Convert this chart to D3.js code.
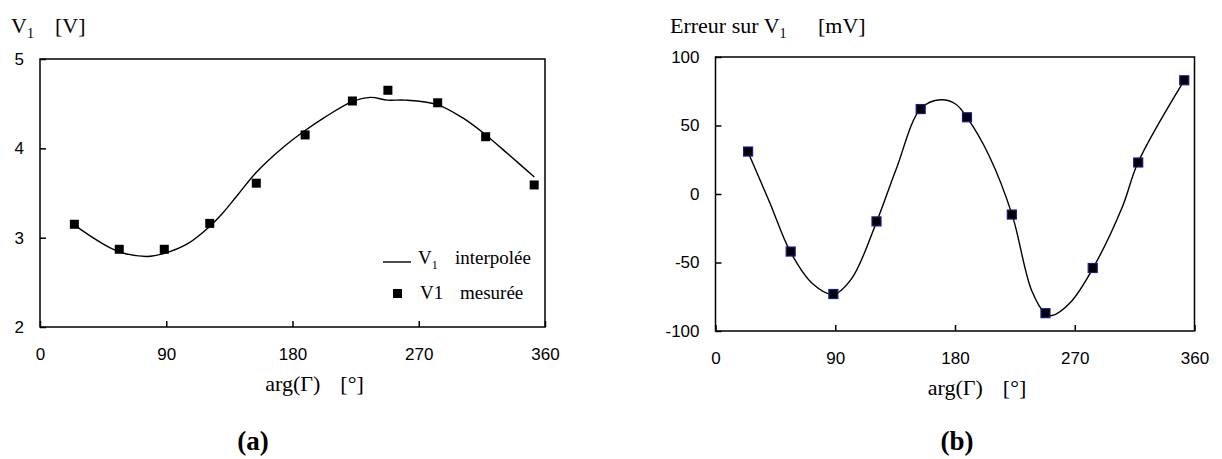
<!DOCTYPE html>
<html>
<head>
<meta charset="utf-8">
<script src="https://cdn.jsdelivr.net/npm/d3@7"></script>
<style>
  body { margin: 0; background: #fff; }
  .tick text { font-family: "Liberation Sans", Arial, sans-serif; font-size: 17px; fill: #000; }
  .serif { font-family: "Liberation Serif", "Times New Roman", serif; fill: #000; }
  .frame { fill: none; stroke: #000; stroke-width: 1.5; }
  .line { fill: none; stroke: #000; stroke-width: 1.4; }
</style>
</head>
<body>
<svg id="chart" width="1222" height="459"></svg>
<script>
// 0. data
var angles = [24.5, 56.5, 88.6, 121, 154.2, 189, 222.7, 248, 283.5, 317.7, 352.3];
var v1Mesuree = [3.15, 2.87, 2.87, 3.16, 3.61, 4.15, 4.53, 4.65, 4.51, 4.13, 3.59];
var erreurMesuree = [31, -42, -73, -20, 62, 56, -15, -87, -54, 23, 83];

// interpolated curve (a)
var interpAngles = [24.6, 42.3, 56.8, 76.4, 88.7, 105, 120.6, 130, 141, 154.1, 173.2, 189, 203.2, 222.3, 235.4, 247.6, 260.5, 283.1, 301.4, 317.8, 334.1, 352.4];
var v1Interp = [3.14, 2.955, 2.84, 2.79, 2.825, 2.93, 3.12, 3.27, 3.48, 3.73, 4.01, 4.20, 4.35, 4.52, 4.57, 4.54, 4.54, 4.49, 4.34, 4.15, 3.93, 3.68];

// interpolated curve (b)
var errAngles = [24.4, 40.9, 56, 73, 88.6, 102.3, 121.2, 135.7, 154.4, 169.3, 180.4, 189, 205.8, 223, 237.6, 248.2, 252.9, 266.9, 283.8, 305.9, 317.6, 352.3];
var errInterp = [30.6, -6.6, -41.7, -65.5, -73.3, -61.8, -20, 17.9, 62.5, 68.8, 65.7, 55.9, 27.6, -15.4, -70.4, -87.5, -88.7, -79, -54, -9.1, 23.2, 83];

var xTicks = [0, 90, 180, 270, 360];
var yTicksA = [2, 3, 4, 5];
var yTicksB = [-100, -50, 0, 50, 100];

var svg = d3.select("#chart");

// 1. scales
var xA = d3.scaleLinear().domain([0, 360]).range([40, 545]);
var yA = d3.scaleLinear().domain([2, 5]).range([327, 59]);
var xB = d3.scaleLinear().domain([0, 360]).range([715.5, 1194.5]);
var yB = d3.scaleLinear().domain([-100, 100]).range([331, 57]);

var plainFmt = function(d) { return String(d); }; // keep "-" instead of the unicode minus

function drawPanel(x, y, yTicks, pts, curve, markerStroke) {
  // frame
  svg.append("rect")
    .attr("class", "frame")
    .attr("x", x.range()[0])
    .attr("y", y.range()[1])
    .attr("width", x.range()[1] - x.range()[0])
    .attr("height", y.range()[0] - y.range()[1]);

  // x axis, ticks pointing in
  var gx = svg.append("g")
    .attr("transform", "translate(0," + y.range()[0] + ")")
    .call(d3.axisBottom(x).tickValues(xTicks).tickFormat(plainFmt)
      .tickSizeInner(-6).tickSizeOuter(0).tickPadding(21));
  gx.select(".domain").remove();
  gx.selectAll(".tick line").attr("stroke-width", 1.5);

  // y axis
  var gy = svg.append("g")
    .attr("transform", "translate(" + x.range()[0] + ",0)")
    .call(d3.axisLeft(y).tickValues(yTicks).tickFormat(plainFmt)
      .tickSizeInner(-6).tickSizeOuter(0).tickPadding(16));
  gy.select(".domain").remove();
  gy.selectAll(".tick line").attr("stroke-width", 1.5);

  // curve
  var line = d3.line()
    .x(function(d) { return x(d[0]); })
    .y(function(d) { return y(d[1]); })
    .curve(d3.curveCatmullRom);
  svg.append("path")
    .datum(curve)
    .attr("class", "line")
    .attr("d", line);

  // markers
  svg.selectAll(null)
    .data(pts)
    .enter().append("rect")
    .attr("x", function(d) { return x(d[0]) - 4.5; })
    .attr("y", function(d) { return y(d[1]) - 4.5; })
    .attr("width", 9)
    .attr("height", 9)
    .attr("fill", "#000")
    .attr("stroke", markerStroke)
    .attr("stroke-width", markerStroke == "none" ? 0 : 1.2);

  // x axis title
  var cx = (x.range()[0] + x.range()[1]) / 2;
  var t = svg.append("text").attr("class", "serif").attr("font-size", 22)
    .attr("x", cx + 22).attr("y", y.range()[0] + 64).attr("text-anchor", "middle");
  t.append("tspan").text("arg(Γ)");
  t.append("tspan").attr("dx", 20).text("[°]");
}

drawPanel(xA, yA, yTicksA,
  angles.map(function(a, i) { return [a, v1Mesuree[i]]; }),
  interpAngles.map(function(a, i) { return [a, v1Interp[i]]; }),
  "none");

drawPanel(xB, yB, yTicksB,
  angles.map(function(a, i) { return [a, erreurMesuree[i]]; }),
  errAngles.map(function(a, i) { return [a, errInterp[i]]; }),
  "#1a1a8c");

// 2. titles with subscript
function titleWithSub(x, yPos, before, after, afterX) {
  var t = svg.append("text").attr("class", "serif").attr("font-size", 22)
    .attr("x", x).attr("y", yPos);
  t.append("tspan").text(before);
  t.append("tspan").attr("font-size", 14).attr("dy", 5).text("1");
  t.append("tspan").attr("dy", -5).attr("x", afterX).text(after);
  return t;
}
titleWithSub(11, 33, "V", "[V]", 55);
titleWithSub(670, 33, "Erreur sur V", "[mV]", 818);

// 3. legend (a)
svg.append("line")
  .attr("x1", 383).attr("x2", 411)
  .attr("y1", 262).attr("y2", 262)
  .attr("stroke", "#000").attr("stroke-width", 1.4);
var l1 = svg.append("text").attr("class", "serif").attr("font-size", 19)
  .attr("x", 418).attr("y", 264);
l1.append("tspan").text("V");
l1.append("tspan").attr("font-size", 12).attr("dy", 5).text("1");
l1.append("tspan").attr("x", 455).attr("dy", -5).text("interpolée");

svg.append("rect")
  .attr("x", 393).attr("y", 289).attr("width", 9).attr("height", 9)
  .attr("fill", "#000");
var l2 = svg.append("text").attr("class", "serif").attr("font-size", 19)
  .attr("x", 420).attr("y", 299);
l2.append("tspan").text("V1");
l2.append("tspan").attr("x", 460).text("mesurée");

// 4. panel labels
svg.append("text").attr("class", "serif")
  .attr("font-size", 27).attr("font-weight", "bold")
  .attr("x", 253).attr("y", 450).attr("text-anchor", "middle")
  .text("(a)");
svg.append("text").attr("class", "serif")
  .attr("font-size", 27).attr("font-weight", "bold")
  .attr("x", 957).attr("y", 450).attr("text-anchor", "middle")
  .text("(b)");
</script>
</body>
</html>
